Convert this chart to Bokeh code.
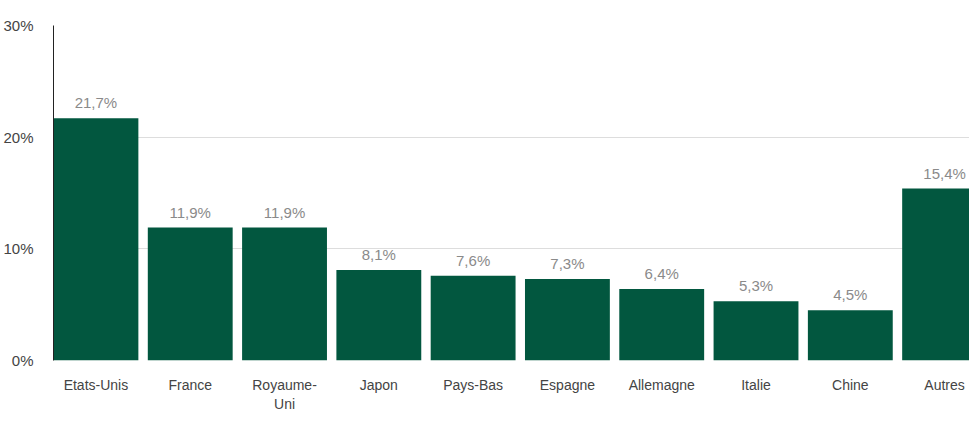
from bokeh.plotting import figure
from bokeh.models import (ColumnDataSource, Range1d, FixedTicker, PrintfTickFormatter,
                          Legend, LegendItem)
from bokeh.embed import file_html
from bokeh.resources import INLINE
from bokeh.core.properties import value

categories = ["Etats-Unis", "France", "Royaume-\nUni", "Japon", "Pays-Bas",
              "Espagne", "Allemagne", "Italie", "Chine", "Autres"]
values = [21.7, 11.9, 11.9, 8.1, 7.6, 7.3, 6.4, 5.3, 4.5, 15.4]
y_ticks = [0, 10, 20, 30]
series_name = "UBAM - DYNAMIC EURO BOND"

FONT = "Liberation Sans"
GREEN = "#02573f"

xs = [i + 0.5 for i in range(len(categories))]
labels = [("%.1f%%" % v).replace(".", ",") for v in values]
src = ColumnDataSource(dict(x=xs, top=values, label=labels))

p = figure(width=969, height=425, output_backend="svg", toolbar_location=None,
           x_range=Range1d(0.05, 9.764), y_range=Range1d(0, 30),
           min_border_left=51, min_border_right=0, min_border_top=25,
           min_border_bottom=65)
p.outline_line_color = None
p.background_fill_color = "white"
p.border_fill_color = "white"

bars = p.vbar(x="x", top="top", width=0.9, bottom=0, source=src,
              fill_color=GREEN, line_color=None)
p.text(x="x", y="top", text="label", source=src, text_align="center",
       text_baseline="bottom", y_offset=-7, text_font=value(FONT),
       text_font_size="15px", text_color="#8a8a8a")

# y axis
p.yaxis.ticker = FixedTicker(ticks=y_ticks)
p.yaxis.formatter = PrintfTickFormatter(format="%d%%")
p.yaxis.major_tick_line_color = None
p.yaxis.minor_tick_line_color = None
p.yaxis.axis_line_color = "#222222"
p.yaxis.major_label_text_font = FONT
p.yaxis.major_label_text_font_size = "15px"
p.yaxis.major_label_text_color = "#444444"
p.yaxis.major_label_standoff = 14

# x axis
p.xaxis.ticker = FixedTicker(ticks=xs)
p.xaxis.major_label_overrides = {x: c for x, c in zip(xs, categories)}
p.xaxis.major_tick_line_color = None
p.xaxis.minor_tick_line_color = None
p.xaxis.axis_line_color = None
p.xaxis.major_label_text_font = FONT
p.xaxis.major_label_text_font_size = "14px"
p.xaxis.major_label_text_color = "#444444"
p.xaxis.major_label_standoff = 10

p.xgrid.grid_line_color = None
p.ygrid.ticker = FixedTicker(ticks=y_ticks)
p.ygrid.grid_line_color = "#dddddd"
p.ygrid.grid_line_width = 1

legend = Legend(items=[LegendItem(label=series_name, renderers=[bars])],
                location=(-18, -64), orientation="horizontal",
                glyph_width=22, glyph_height=14, label_standoff=13,
                padding=0, margin=0, border_line_color=None,
                background_fill_alpha=0,
                label_text_font=FONT, label_text_font_size="14px",
                label_text_color="#555555")
p.add_layout(legend, "center")

open("out.html", "w").write(file_html(p, INLINE))
